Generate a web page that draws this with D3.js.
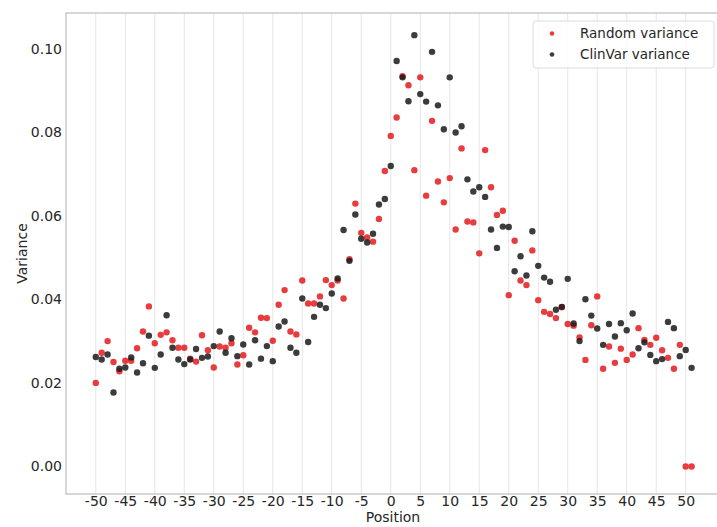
<!DOCTYPE html>
<html lang="en">
<meta charset="utf-8">
<style>
body { margin: 0; background: #fff; }
text { font-family: "DejaVu Sans", sans-serif; fill: #262626; }
.grid line { stroke: #e6e6e6; stroke-width: 1; }
.spine { stroke: #bdbdbd; stroke-width: 1.2; fill: none; }
</style>
<body>
<script src="https://d3js.org/d3.v7.min.js"></script>
<script>

var positions = d3.range(-50, 52);

var randomVariance = [
  0.0200, 0.0272, 0.0300, 0.0250, 0.0228, 0.0253, 0.0253, 0.0283, 0.0323, 0.0383,
  0.0295, 0.0315, 0.0321, 0.0302, 0.0284, 0.0284, 0.0258, 0.0251, 0.0314, 0.0278,
  0.0237, 0.0287, 0.0284, 0.0295, 0.0244, 0.0266, 0.0332, 0.0321, 0.0356, 0.0355,
  0.0301, 0.0387, 0.0422, 0.0323, 0.0316, 0.0445, 0.0390, 0.0390, 0.0407, 0.0446,
  0.0434, 0.0445, 0.0402, 0.0496, 0.0629, 0.0559, 0.0548, 0.0538, 0.0592, 0.0707,
  0.0791, 0.0835, 0.0934, 0.0912, 0.0709, 0.0931, 0.0648, 0.0827, 0.0682, 0.0632,
  0.0690, 0.0567, 0.0761, 0.0586, 0.0584, 0.0510, 0.0757, 0.0668, 0.0602, 0.0612,
  0.0410, 0.0540, 0.0445, 0.0434, 0.0517, 0.0398, 0.0370, 0.0365, 0.0355, 0.0381,
  0.0341, 0.0337, 0.0309, 0.0255, 0.0338, 0.0407, 0.0234, 0.0287, 0.0248, 0.0282,
  0.0255, 0.0268, 0.0331, 0.0303, 0.0291, 0.0308, 0.0278, 0.0260, 0.0234, 0.0291,
  0.0000, 0.0000
];

var clinvarVariance = [
  0.0262, 0.0256, 0.0268, 0.0177, 0.0234, 0.0237, 0.0261, 0.0225, 0.0247, 0.0313,
  0.0236, 0.0268, 0.0362, 0.0284, 0.0256, 0.0245, 0.0256, 0.0281, 0.0260, 0.0263,
  0.0288, 0.0323, 0.0272, 0.0307, 0.0264, 0.0292, 0.0244, 0.0302, 0.0258, 0.0288,
  0.0252, 0.0335, 0.0347, 0.0284, 0.0272, 0.0402, 0.0298, 0.0358, 0.0387, 0.0379,
  0.0414, 0.0450, 0.0566, 0.0492, 0.0603, 0.0545, 0.0536, 0.0557, 0.0627, 0.0640,
  0.0719, 0.0970, 0.0931, 0.0874, 0.1032, 0.0891, 0.0873, 0.0992, 0.0864, 0.0807,
  0.0931, 0.0799, 0.0814, 0.0687, 0.0658, 0.0668, 0.0645, 0.0567, 0.0523, 0.0574,
  0.0573, 0.0467, 0.0503, 0.0457, 0.0563, 0.0480, 0.0452, 0.0442, 0.0375, 0.0382,
  0.0449, 0.0342, 0.0300, 0.0400, 0.0361, 0.0330, 0.0291, 0.0341, 0.0311, 0.0343,
  0.0326, 0.0366, 0.0283, 0.0297, 0.0267, 0.0252, 0.0257, 0.0346, 0.0331, 0.0264,
  0.0279, 0.0236
];

var xTicks = d3.range(-50, 51, 5);
var yTicks = [0, 0.02, 0.04, 0.06, 0.08, 0.10];

var seriesNames = ["Random variance", "ClinVar variance"];
var seriesColors = ["#e41a1c", "#1a1a1a"];

var width = 717, height = 527;
var plot = {left: 66, top: 13, right: 721.4, bottom: 494};

var x = d3.scaleLinear().domain([-55.05, 56.05]).range([plot.left, plot.right]);
var y = d3.scaleLinear().domain([-0.00658, 0.1085]).range([plot.bottom, plot.top]);

var svg = d3.select("body").append("svg")
    .attr("width", width)
    .attr("height", height);

svg.append("rect").attr("width", width).attr("height", height).attr("fill", "#fff");

// vertical grid only
svg.append("g")
    .attr("class", "grid")
  .selectAll("line")
  .data(xTicks)
  .enter().append("line")
    .attr("x1", function(d) { return x(d); })
    .attr("x2", function(d) { return x(d); })
    .attr("y1", plot.top)
    .attr("y2", plot.bottom);

// frame
svg.append("rect")
    .attr("class", "spine")
    .attr("x", plot.left)
    .attr("y", plot.top)
    .attr("width", plot.right - plot.left)
    .attr("height", plot.bottom - plot.top);

// axes (plain hyphen for negatives, like the original)
var xAxis = svg.append("g")
    .attr("transform", "translate(0," + plot.bottom + ")")
    .call(d3.axisBottom(x).tickValues(xTicks).tickSize(0).tickPadding(2.5)
      .tickFormat(function(d) { return String(d); }));
xAxis.select(".domain").remove();
xAxis.selectAll("text").style("font-size", "14px").attr("fill", "#262626");

var yAxis = svg.append("g")
    .attr("transform", "translate(" + plot.left + ",0)")
    .call(d3.axisLeft(y).tickValues(yTicks).tickSize(0).tickPadding(4)
      .tickFormat(d3.format(".2f")));
yAxis.select(".domain").remove();
yAxis.selectAll("text").style("font-size", "14px").attr("fill", "#262626");

svg.append("text")
    .attr("x", 393)
    .attr("y", 522)
    .attr("text-anchor", "middle")
    .style("font-size", "14px")
    .text("Position");

svg.append("text")
    .attr("transform", "translate(27," + (plot.top + plot.bottom) / 2 + ") rotate(-90)")
    .attr("text-anchor", "middle")
    .style("font-size", "14px")
    .text("Variance");

// points
var series = [randomVariance, clinvarVariance];
series.forEach(function(values, i) {
  svg.append("g")
    .selectAll("circle")
    .data(values)
    .enter().append("circle")
      .attr("cx", function(d, j) { return x(positions[j]); })
      .attr("cy", function(d) { return y(d); })
      .attr("r", 3.2)
      .attr("fill", seriesColors[i])
      .attr("fill-opacity", 0.85);
});

// legend
var legend = svg.append("g").attr("transform", "translate(533,21)");
legend.append("rect")
    .attr("width", 181)
    .attr("height", 47)
    .attr("rx", 3)
    .attr("fill", "#fff")
    .attr("fill-opacity", 0.8)
    .attr("stroke", "#dcdcdc");
seriesNames.forEach(function(name, i) {
  legend.append("circle")
      .attr("cx", 19)
      .attr("cy", 12.5 + i * 21)
      .attr("r", 2.3)
      .attr("fill", seriesColors[i])
      .attr("fill-opacity", 0.85);
  legend.append("text")
      .attr("x", 47)
      .attr("y", 12.5 + i * 21)
      .attr("dy", "0.35em")
      .style("font-size", "13.5px")
      .text(name);
});

</script>
</body>
</html>
